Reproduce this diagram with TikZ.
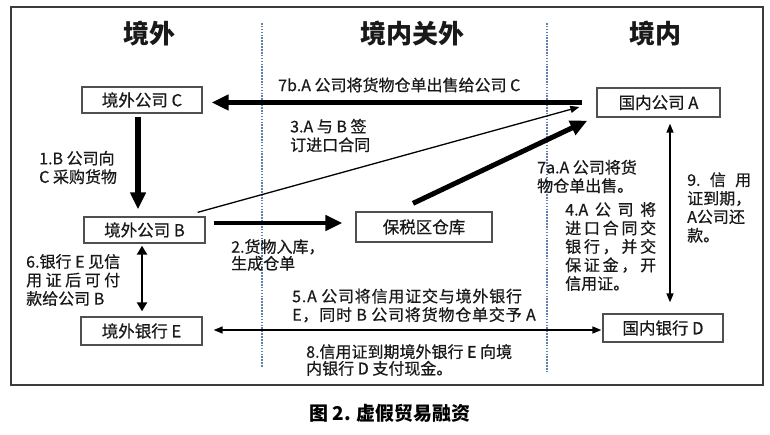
\documentclass[tikz,border=0pt]{standalone}
\usepackage{fontspec}
\setmainfont{Noto Sans CJK SC}
\newfontfamily\lblfont{Noto Sans CJK SC}[FakeBold=0.6]
\newfontfamily\lblwide{Noto Sans CJK SC}[FakeBold=0.6,LetterSpace=5]
\usetikzlibrary{arrows.meta}
\definecolor{boxgray}{RGB}{80,80,80}
\definecolor{framegray}{RGB}{60,60,60}
\definecolor{dotcol}{RGB}{95,128,170}
\definecolor{txt}{RGB}{25,25,25}
\newcommand{\sprd}[2]{\makebox[#1][s]{#2}}
\begin{document}
\begin{tikzpicture}[x=1pt,y=-1pt,
  box/.style={draw=boxgray,line width=1.3pt,inner sep=0pt,text=txt,font=\lblfont\fontsize{16.5}{18}\selectfont},
  lbl/.style={font=\lblfont\fontsize{16}{18.5}\selectfont,align=left,inner sep=0pt,anchor=west,text=txt},
  ttl/.style={font=\fontsize{26}{30}\selectfont\bfseries,inner sep=0pt,text=txt},
  bigarrow/.style={line width=4.5pt,-{Triangle[length=17pt,width=15pt]}},
  midarrow/.style={line width=2.4pt,{Triangle[length=9pt,width=10pt]}-{Triangle[length=9pt,width=10pt]}},
  thinarrow/.style={line width=1.4pt,{Triangle[length=9pt,width=7pt]}-{Triangle[length=9pt,width=7pt]}},
  onearrow/.style={line width=1.3pt,-{Triangle[length=9pt,width=7pt]}},
  divider/.style={dotcol,line width=2pt,dash pattern=on 1.6pt off 1.3pt}]
\useasboundingbox (0,0) rectangle (770,435);
% frame
\draw[framegray,line width=1.6pt] (11,7) rectangle (763,385);
% dividers
\coordinate (d1t) at (262,23); \coordinate (d1b) at (262,368);
\coordinate (d2t) at (547,23); \coordinate (d2b) at (547,372);
\draw[divider] (d1t) -- (d1b);
\draw[divider] (d2t) -- (d2b);
% titles
\node[ttl] (t1) at (149,34) {境外};
\node[ttl] (t2) at (412,34) {境内关外};
\node[ttl] (t3) at (655,34) {境内};
% boxes
\node[box,minimum width=120pt,minimum height=26pt] (C) at (142,100) {境外公司 C};
\node[box,minimum width=123pt,minimum height=29pt] (A) at (658.5,102.5) {国内公司 A};
\node[box,minimum width=121pt,minimum height=26pt] (B) at (144.5,230) {境外公司 B};
\node[box,minimum width=136pt,minimum height=30pt] (W) at (424,227) {保税区仓库};
\node[box,minimum width=121pt,minimum height=28pt] (E) at (141.5,331) {境外银行 E};
\node[box,minimum width=120pt,minimum height=28pt] (D) at (663,328) {国内银行 D};
% arrows
\draw[bigarrow,shorten <=14pt,shorten >=9pt] (A.west) -- (A.west -| C.east);
\draw[bigarrow,line width=5.5pt,shorten <=3pt,shorten >=7pt] ([xshift=-4pt]C.south) -- ([xshift=-4pt]C.south |- B.north);
\draw[bigarrow,line width=4.5pt,shorten <=8pt,shorten >=13pt] ([yshift=7pt]B.east) -- ([yshift=7pt]B.east -| W.west);
\draw[onearrow] ([xshift=-8pt,yshift=4pt]B.north east) -- ([xshift=-17pt,yshift=-4.5pt]A.west);
\draw[bigarrow,line width=5pt] ([xshift=-11pt,yshift=8pt]W.north) -- ([xshift=-9pt,yshift=-3pt]A.south west);
\draw[midarrow,shorten <=2pt,shorten >=5pt] ([xshift=-2.5pt]B.south) -- ([xshift=-2.5pt]B.south |- E.north);
\draw[thinarrow,shorten <=11pt,shorten >=1pt] ([yshift=1pt]E.east) -- ([yshift=1pt]E.east -| D.west);
\draw[thinarrow,shorten <=6pt,shorten >=11pt] ([xshift=11.5pt]A.south) -- ([xshift=11.5pt]A.south |- D.north);
% labels
\node[lbl] (l7b) at (278,85) {7b.A 公司将货物仓单出售给公司 C};
\node[lbl] (l3) at (290,135.5) {3.A 与 B 签\\订进口合同};
\node[lbl] (l1) at (39,167.5) {1.B 公司向\\C 采购货物};
\node[lbl] (l7a) at (537,176.5) {7a.A 公司将货\\物仓单出售。};
\node[lbl] (l9) at (687,207.5) {\sprd{64pt}{9.\hfill 信\hfill 用}\\证到期，\\A公司还\\款。};
\node[lbl] (l4) at (565,246.5) {\sprd{91pt}{4.A\hfill 公\hfill 司\hfill 将}\\\sprd{91pt}{进\hfill 口\hfill 合\hfill 同\hfill 交}\\\sprd{91pt}{银\hfill 行\hfill ，\hfill 并\hfill 交}\\\sprd{91pt}{保\hfill 证\hfill 金\hfill ，\hfill 开}\\信用证。};
\node[lbl] (l6) at (26,280) {\sprd{94pt}{6.银行\hfill E\hfill 见信}\\\sprd{94pt}{用\hfill 证\hfill 后\hfill 可\hfill 付}\\款给公司 B};
\node[lbl,font=\lblfont\fontsize{16}{16.7}\selectfont] (l2) at (231,255) {2.货物入库，\\生成仓单};
\node[lbl,font=\lblwide\fontsize{16}{18.5}\selectfont] (l5) at (292,305.5) {5.A 公司将信用证交与境外银行\\E，同时 B 公司将货物仓单交予 A};
\node[lbl,font=\lblfont\fontsize{16}{16.7}\selectfont] (l8) at (306,360) {8.信用证到期境外银行 E 向境\\内银行 D 支付现金。};
% caption
\node[inner sep=0pt,font=\fontsize{19}{22}\selectfont\bfseries,text=black] (cap) at (390,413) {图 2. 虚假贸易融资};
\end{tikzpicture}
\end{document}
